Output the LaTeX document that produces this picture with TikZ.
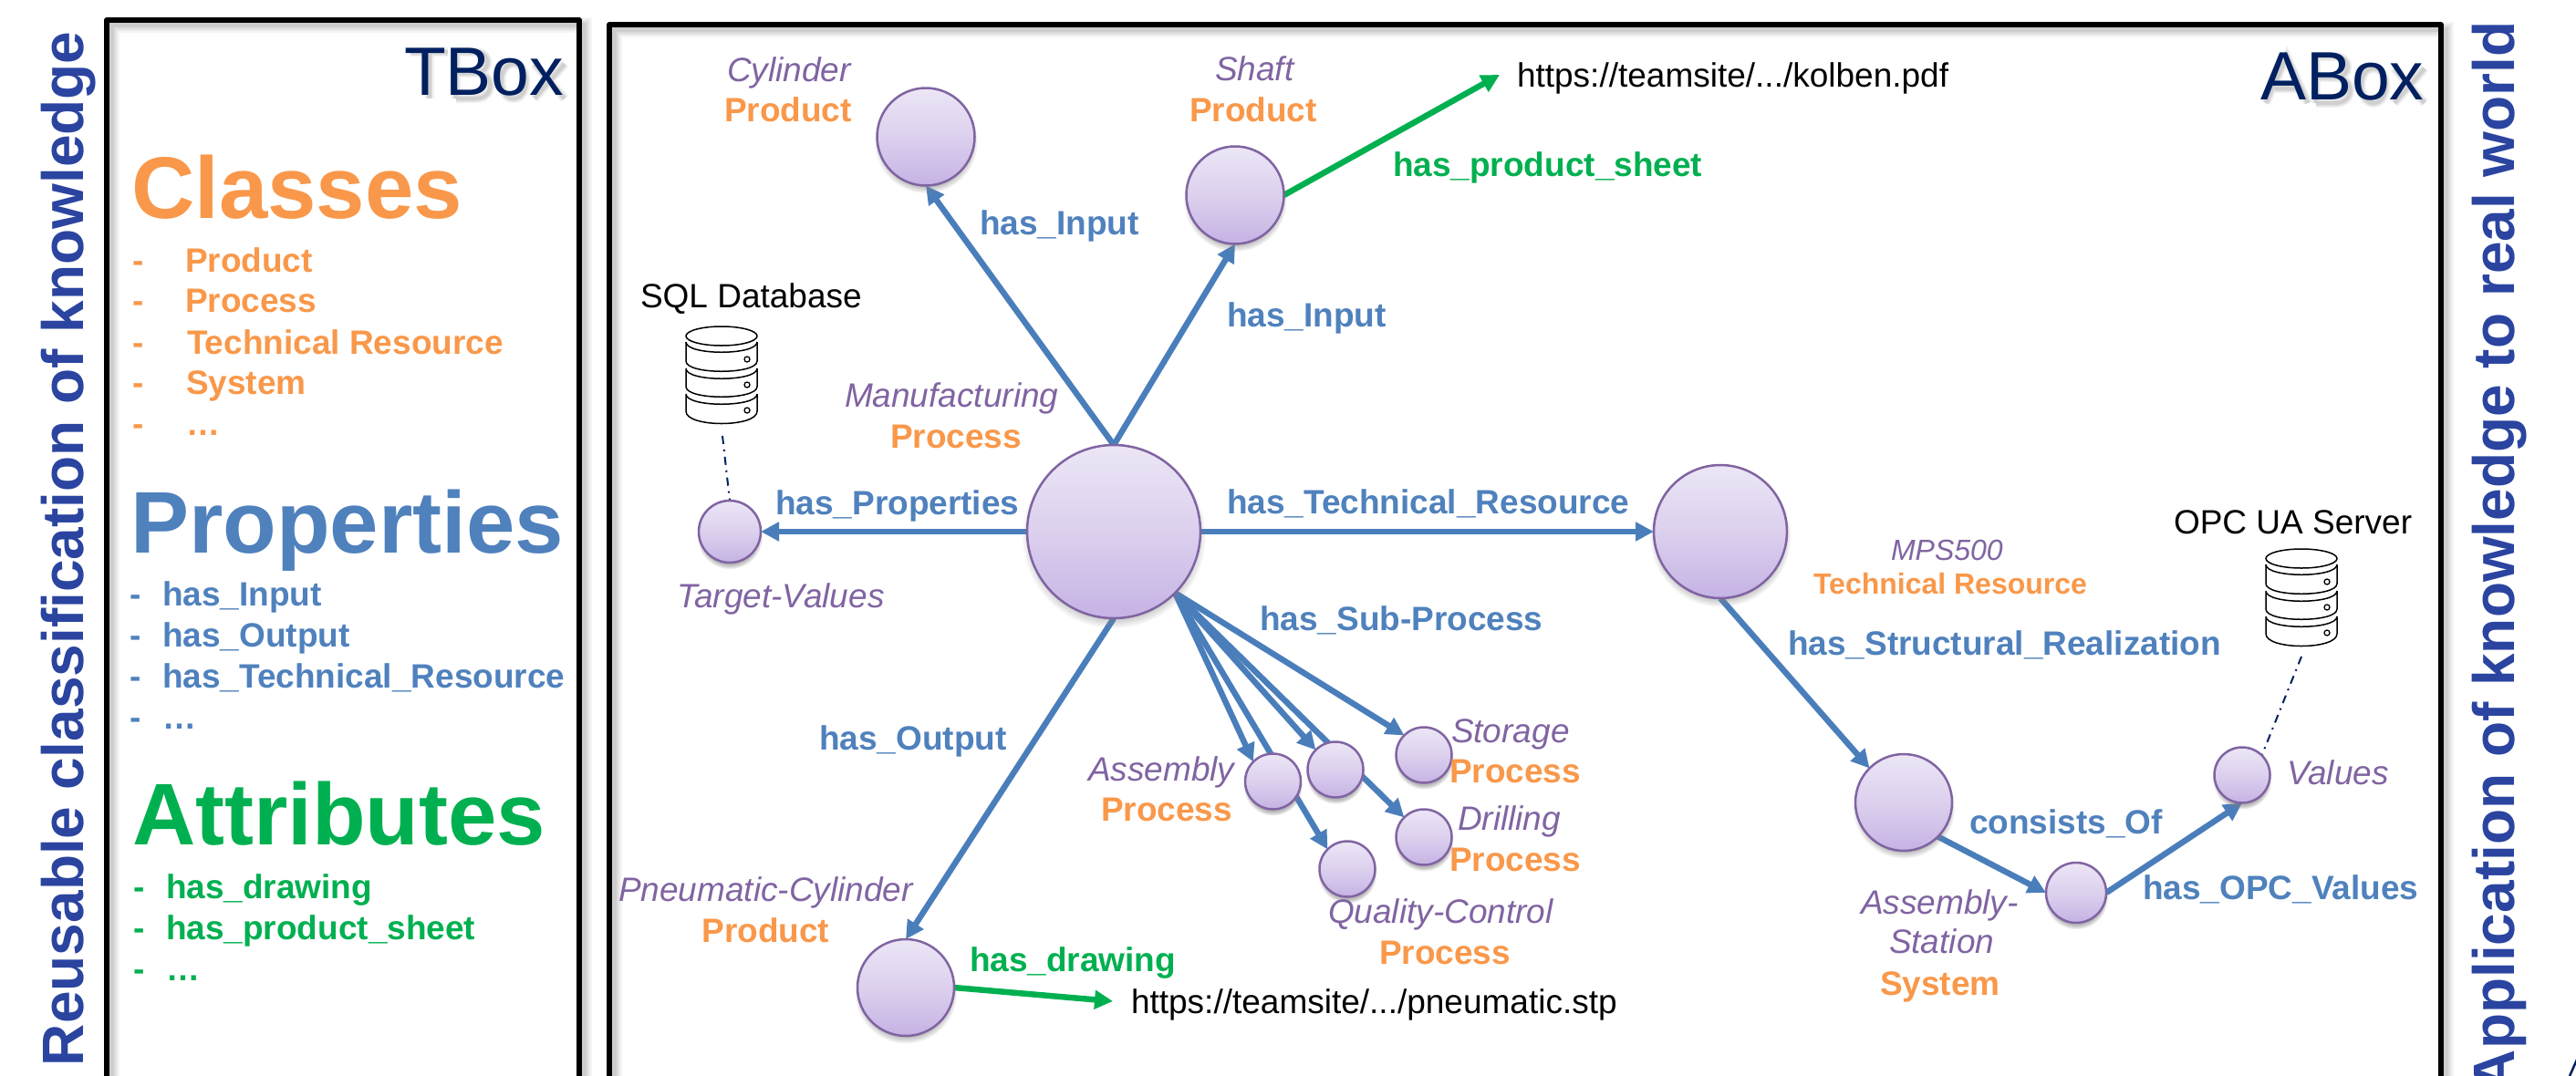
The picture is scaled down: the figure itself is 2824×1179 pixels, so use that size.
\documentclass[tikz,border=0pt]{standalone}
\usepackage{fontspec}
\setmainfont{Liberation Sans}
\usetikzlibrary{arrows.meta,shadows,fadings,backgrounds}
\definecolor{cOrange}{HTML}{F9984A}
\definecolor{cBlue}{HTML}{4F81BD}
\definecolor{cEdge}{HTML}{4A7EBB}
\definecolor{cGreen}{HTML}{00B050}
\definecolor{cPurple}{HTML}{8064A2}
\definecolor{cNavy}{HTML}{002060}
\definecolor{cTitle}{HTML}{2A44A0}
\definecolor{cTop}{HTML}{ECE6F6}
\definecolor{cMid}{HTML}{DCD0EE}
\definecolor{cBot}{HTML}{C5B3E4}
\tikzset{
  txt/.style={anchor=base west,inner sep=0pt,outer sep=0pt,font=\fontsize{37}{40}\selectfont},
  hd/.style={txt,font=\fontsize{96}{100}\selectfont\bfseries},
  bx/.style={txt,text=cNavy,font=\fontsize{75}{80}\selectfont},
  ttl/.style={txt,rotate=90,text=cTitle,font=\fontsize{64}{70}\selectfont\bfseries},
  org/.style={text=cOrange,font=\fontsize{37}{40}\selectfont\bfseries},
  blu/.style={text=cBlue,font=\fontsize{37}{40}\selectfont\bfseries},
  grn/.style={text=cGreen,font=\fontsize{37}{40}\selectfont\bfseries},
  pur/.style={text=cPurple,font=\fontsize{37}{40}\selectfont\itshape},
  ball/.style={circle,inner sep=0pt,outer sep=0pt,minimum size=#1,draw=cPurple,line width=2.5pt,
    top color=cTop,bottom color=cBot,middle color=cMid,
    circular drop shadow={shadow xshift=0pt,shadow yshift=-5pt,shadow scale=1.06,opacity=.55}},
  edge/.style={draw=cEdge,line width=6.5pt,-{Triangle[length=20pt,width=20pt]}},
  gedge/.style={draw=cGreen,line width=6.5pt,-{Triangle[length=20pt,width=20pt]}},
  link/.style={draw=cNavy,line width=2pt,dash pattern=on 9pt off 6pt on 2pt off 6pt},
  frm/.style={draw=black,line width=5.5pt,line join=round},
  dbicon/.pic={
    \draw[line width=1.5pt,black,fill=white]
      (-39,17) -- (-39,38) .. controls (-39,53) and (39,53) .. (39,38) -- (39,17);
    \draw[line width=1.5pt,black] (-39,17) .. controls (-39,32) and (39,32) .. (39,17);
    \draw[line width=1.5pt,black]
      (-39,46) -- (-39,66) .. controls (-39,81) and (39,81) .. (39,66) -- (39,46)
      (-39,46) .. controls (-39,61) and (39,61) .. (39,46);
    \draw[line width=1.5pt,black]
      (-39,74) -- (-39,93) .. controls (-39,111) and (39,111) .. (39,93) -- (39,74)
      (-39,74) .. controls (-39,89) and (39,89) .. (39,74);
    \draw[line width=1.5pt,black,fill=white] (0,10.5) ellipse [x radius=39,y radius=10.5];
    \draw[line width=1.3pt,black] (28,36) circle [radius=3] (28,64) circle [radius=3] (28,92) circle [radius=3];
  },
}
\newcommand{\frameshadow}[1]{%
  \foreach \w/\o in {17/.08,13/.10,9/.12,5/.16}{%
    \draw[gray,line width=\w pt,opacity=\o,shift={(5,5)}] #1;}}
\newcommand{\lettershadow}[1]{%
  \foreach \w/\o in {10/.10,7/.14,4/.18}{%
    \draw[gray,line width=\w pt,opacity=\o] #1;}}
\newcommand{\boxpath}{%
  (7,0)--(7,-51)--(28,-51) .. controls (46,-51) and (46,-28) .. (28,-28)--(7,-28)
  (28,-28) .. controls (50,-28) and (50,0) .. (28,0)--(7,0)
  (70,-38) .. controls (52,-38) and (52,0) .. (70,0) .. controls (88,0) and (88,-38) .. (70,-38)
  (93,-38)--(126,0) (126,-38)--(93,0)}
\begin{document}
\begin{tikzpicture}[x=1pt,y=-1pt]
\useasboundingbox (0,0) rectangle (2824,1179);

% circles
\node[ball=107pt] (cyl) at (1015,150) {};
\node[ball=107pt] (shaft) at (1354,214) {};
\node[ball=190pt] (main) at (1221,583) {};
\node[ball=68pt] (target) at (800,583) {};
\node[ball=146pt] (mps) at (1886,583) {};
\node[ball=106pt] (pneu) at (993,1083) {};
\node[ball=61pt] (assembly) at (1395.5,857) {};
\node[ball=61pt] (midproc) at (1464,844) {};
\node[ball=61pt] (storage) at (1561,828) {};
\node[ball=61pt] (drilling) at (1561,918) {};
\node[ball=61pt] (quality) at (1477,953) {};
\node[ball=106pt] (station) at (2087,880) {};
\node[ball=66pt] (part) at (2276,979) {};
\node[ball=61pt] (values) at (2458,850) {};

\coordinate (kolben) at (1644,82);
\coordinate (pneumurl) at (1220,1098);
\coordinate (sqlfoot) at (792,478);
\coordinate (opcfoot) at (2523,720);

\begin{scope}[on background layer]
  \fill[white] (0,0) rectangle (2824,1179);
  \frameshadow{(117,1200)--(117,22)--(635,22)--(635,1200)}
  \frameshadow{(668,1200)--(668,27)--(2676,27)--(2676,1200)}
  \draw[frm] (117,1200)--(117,22)--(635,22)--(635,1200);
  \draw[frm] (668,1200)--(668,27)--(2676,27)--(2676,1200);
  \begin{scope}[shift={(448,108)}]
    \lettershadow{(2,-51)--(43,-51) (22.5,-51)--(22.5,0)}
    \begin{scope}[shift={(45,0)}]\lettershadow{\boxpath}\end{scope}
  \end{scope}
  \begin{scope}[shift={(2482,113)}]
    \lettershadow{(2,0)--(25,-51)--(48,0) (12,-16)--(38,-16)}
    \begin{scope}[shift={(50,0)}]\lettershadow{\boxpath}\end{scope}
  \end{scope}

  \draw[edge] (main.north) -- (cyl.south);
  \draw[edge] (main.north) -- (shaft.south);
  \draw[edge] (main.west) -- (target.east);
  \draw[edge] (main.east) -- (mps.west);
  \draw[edge] (main.south) -- (pneu.north);
  \draw[edge] (main.south east) -- (storage.north west);
  \draw[edge] (main.south east) -- (drilling.north west);
  \draw[edge] (main.south east) -- (midproc.north west);
  \draw[edge] (main.south east) -- (quality.north west);
  \draw[edge] (main.south east) -- (assembly.north west);
  \draw[edge] (mps.south) -- (station.north west);
  \draw[edge] (station.south east) -- (part.west);
  \draw[edge] (part.east) -- (values.south);
  \draw[gedge] (shaft.east) -- (kolben);
  \draw[gedge] (pneu.east) -- (pneumurl);
  \draw[link] (sqlfoot) -- (target.north);
  \draw[link] (opcfoot) -- (values.north east);
\end{scope}

\pic at (791,358) {dbicon};
\pic at (2523,602) {dbicon};

% side titles
\node[ttl] (titleL) at (91.5,1169) {Reusable classification of knowledge};
\node[ttl] (titleR) at (2756,1197) {Application of knowledge to real world};
\draw[cNavy,line width=2.5pt] (2825,1162) -- (2817,1180);

% TBox
\node[bx] (tbox) at (443,104) {TBox};
\node[hd,text=cOrange] (classes) at (144,239) {Classes};
\node[txt,org] (c1d) at (145,298) {-};
\node[txt,org] (c1) at (203,298) {Product};
\node[txt,org] (c2d) at (145,342.5) {-};
\node[txt,org] (c2) at (203,342.5) {Process};
\node[txt,org] (c3d) at (145,388) {-};
\node[txt,org] (c3) at (205,388) {Technical Resource};
\node[txt,org] (c4d) at (145,432) {-};
\node[txt,org] (c4) at (204,432) {System};
\node[txt,org] (c5d) at (145,477) {-};
\node[txt,org] (c5) at (204,477) {…};
\node[hd,text=cBlue] (props) at (143,606) {Properties};
\node[txt,blu] (p1d) at (142,664) {-};
\node[txt,blu] (p1) at (178,664) {has\_Input};
\node[txt,blu] (p2d) at (142,709) {-};
\node[txt,blu] (p2) at (178,709) {has\_Output};
\node[txt,blu] (p3d) at (142,754) {-};
\node[txt,blu] (p3) at (178,754) {has\_Technical\_Resource};
\node[txt,blu] (p4d) at (142,799) {-};
\node[txt,blu] (p4) at (178,799) {…};
\node[hd,text=cGreen] (attrs) at (145,926) {Attributes};
\node[txt,grn] (a1d) at (146,985) {-};
\node[txt,grn] (a1) at (182,985) {has\_drawing};
\node[txt,grn] (a2d) at (146,1030) {-};
\node[txt,grn] (a2) at (182,1030) {has\_product\_sheet};
\node[txt,grn] (a3d) at (146,1075) {-};
\node[txt,grn] (a3) at (182,1075) {…};

% ABox
\node[bx] (abox) at (2478,109) {ABox};
\node[txt,pur] (l1) at (797,89) {Cylinder};
\node[txt,org] (l2) at (794,133) {Product};
\node[txt,pur] (l3) at (1332,88) {Shaft};
\node[txt,org] (l4) at (1304,133) {Product};
\node[txt,blu] (l5) at (1074,257) {has\_Input};
\node[txt,blu] (l6) at (1345,358) {has\_Input};
\node[txt,grn] (l7) at (1527,193.5) {has\_product\_sheet};
\node[txt] (l8) at (1663,95) {https://teamsite/.../kolben.pdf};
\node[txt] (l9) at (702,337) {SQL Database};
\node[txt,pur] (l10) at (926,446) {Manufacturing};
\node[txt,org] (l11) at (976,491) {Process};
\node[txt,blu] (l12) at (850,564) {has\_Properties};
\node[txt,pur] (l13) at (742,666) {Target-Values};
\node[txt,blu] (l14) at (1345,563) {has\_Technical\_Resource};
\node[txt,pur,font=\fontsize{32}{36}\selectfont\itshape] (l15) at (2073,614) {MPS500};
\node[txt,org,font=\fontsize{32}{36}\selectfont\bfseries] (l16) at (1988,651.5) {Technical Resource};
\node[txt,blu] (l17) at (1960,718) {has\_Structural\_Realization};
\node[txt,blu] (l18) at (1381,691) {has\_Sub-Process};
\node[txt,blu] (l19) at (898,822) {has\_Output};
\node[txt,pur] (l20) at (678,988) {Pneumatic-Cylinder};
\node[txt,org] (l21) at (769.5,1033) {Product};
\node[txt,grn] (l22) at (1063,1065) {has\_drawing};
\node[txt] (l23) at (1240,1111) {https://teamsite/.../pneumatic.stp};
\node[txt,pur] (l24) at (1193,856) {Assembly};
\node[txt,org] (l25) at (1207,900) {Process};
\node[txt,pur] (l26) at (1591,814) {Storage};
\node[txt,org] (l27) at (1589,858.5) {Process};
\node[txt,pur] (l28) at (1598,910) {Drilling};
\node[txt,org] (l29) at (1589,955) {Process};
\node[txt,pur] (l30) at (1456,1012) {Quality-Control};
\node[txt,org] (l31) at (1512,1057.5) {Process};
\node[txt,blu] (l32) at (2159,914) {consists\_Of};
\node[txt,blu] (l33) at (2349,986) {has\_OPC\_Values};
\node[txt,pur] (l34) at (2507,860) {Values};
\node[txt] (l35) at (2383,585) {OPC UA Server};
\node[txt,pur] (l36) at (2040,1002) {Assembly-};
\node[txt,pur] (l37) at (2071,1045.5) {Station};
\node[txt,org] (l38) at (2061,1091) {System};
\end{tikzpicture}
\end{document}
